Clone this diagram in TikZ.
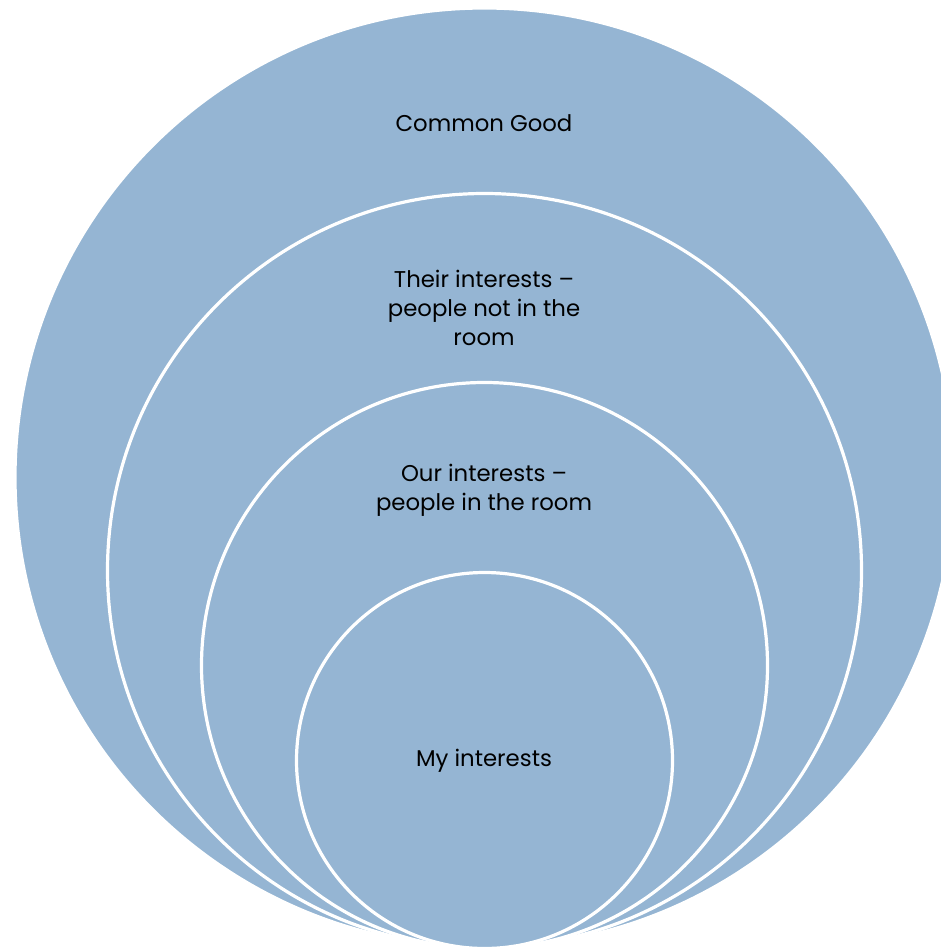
\documentclass[tikz,border=0pt]{standalone}
\usepackage{fontspec}
\setmainfont{Poppins}
\definecolor{ringblue}{HTML}{95B5D3}
\begin{document}
\begin{tikzpicture}[x=0.5pt,y=-0.5pt,
  ring/.style={fill=ringblue,draw=white,line width=1.6pt},
  lbl/.style={align=center,font=\fontsize{11.4}{14.5}\selectfont,text=black,inner sep=0pt}]
\useasboundingbox (0,0) rectangle (941,947);
\fill[white] (0,0) rectangle (941,947);
\begin{scope}
\clip (0,0) rectangle (941,947);
\path[ring] (484.5,477.5) circle[radius=234.75pt];
\path[ring] (484.5,570.5) circle[radius=188.5pt];
\path[ring] (484.5,665.5) circle[radius=141.5pt];
\path[ring] (484.5,760.5) circle[radius=94pt];
\end{scope}
\node[lbl] (common) at (484,123) {Common Good};
\node[lbl] (their) at (484,308) {Their interests –\\people not in the\\room};
\node[lbl] (our) at (484,490) {Our interests –\\people in the room};
\node[lbl] (my) at (484,761) {My interests};
\end{tikzpicture}
\end{document}
